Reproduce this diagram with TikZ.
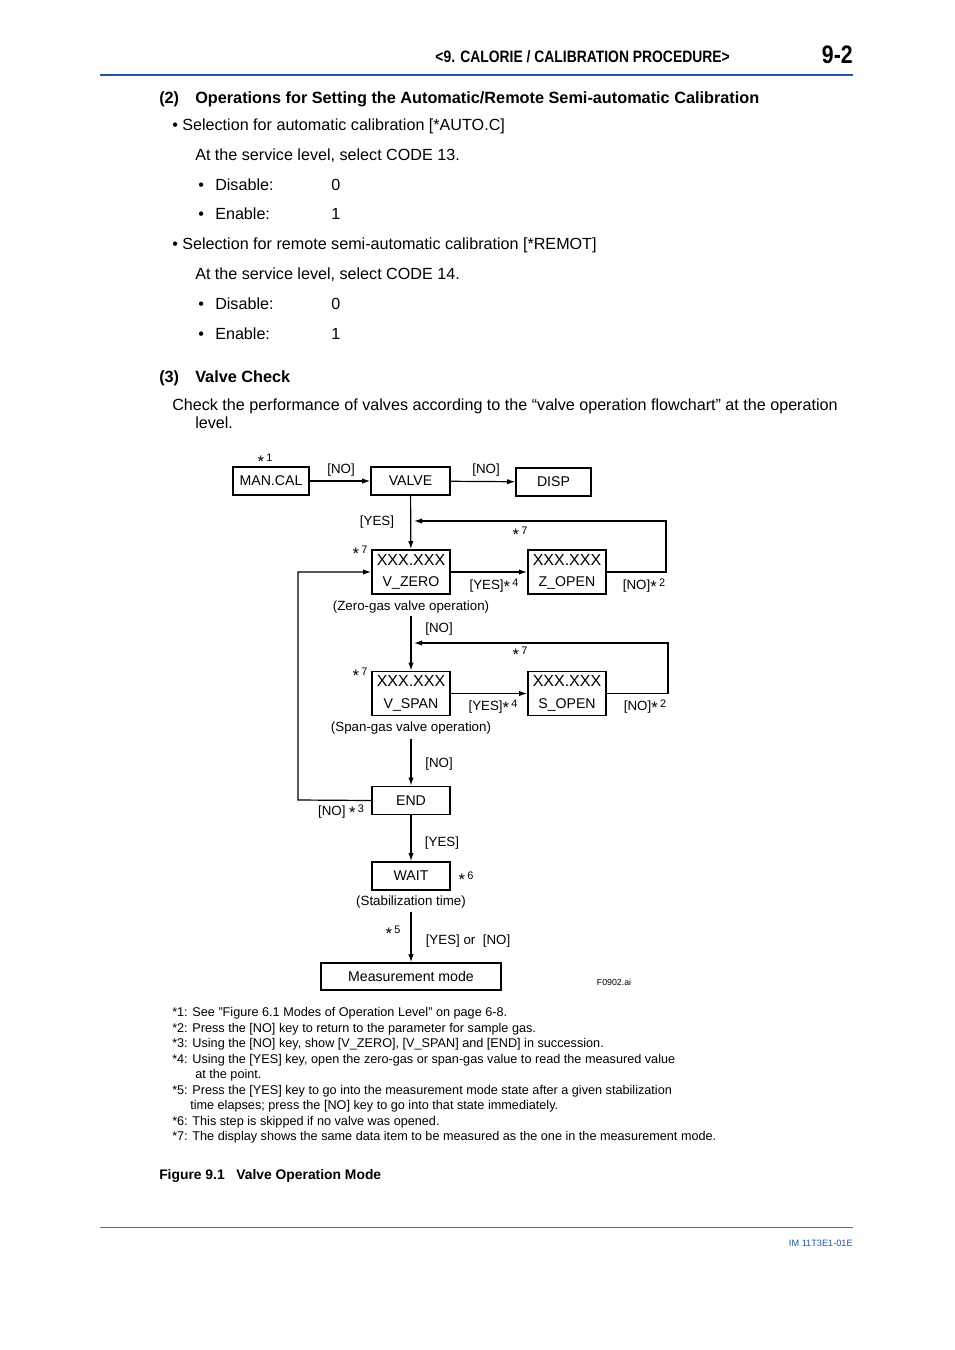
\documentclass[tikz,border=0pt]{standalone}
\usepackage{fontspec}
\setmainfont{Liberation Sans}
\newfontfamily\condfont{Liberation Sans}[FakeStretch=0.84]
\usetikzlibrary{arrows.meta, positioning}
\definecolor{headblue}{RGB}{30,85,170}
\definecolor{rulegray}{RGB}{110,110,110}
\newcommand{\fnote}[1]{\raisebox{-2.2pt}{\fontsize{12.5}{12}\selectfont *}\,\raisebox{2pt}{\fontsize{8.2}{9}\selectfont #1}}

\begin{document}
\begin{tikzpicture}[x=0.75pt, y=-0.75pt,
  box/.style={draw,line width=1.4pt,inner sep=0pt,minimum width=58.5pt,minimum height=21pt,
              font=\fontsize{10.6}{12}\selectfont,align=center},
  dbox/.style={box,minimum height=33pt},
  lbl/.style={inner sep=0pt,yshift=-1.2pt,font=\fontsize{10}{12}\selectfont},
  arr/.style={-{Latex[length=6pt,width=4pt]},line width=0.9pt},
  body/.style={anchor=base west,inner sep=0pt,font=\fontsize{12.1}{14}\selectfont},
  note/.style={anchor=base west,inner sep=0pt,font=\fontsize{9.5}{11}\selectfont}
]
\fill[white] (0,0) rectangle (954,1350);
\useasboundingbox (0,0) rectangle (954,1350);

% Header
\node[anchor=base east,inner sep=0pt,font=\condfont\bfseries\fontsize{12.4}{14}\selectfont] (head)
  at (730,62) {<9. CALORIE / CALIBRATION PROCEDURE>};
\node[anchor=base east,inner sep=0pt,font=\condfont\bfseries\fontsize{19}{20}\selectfont] (pagenum)
  at (853,63) {9-2};
\draw[headblue,line width=2.2pt] (100,75) -- (853,75);

% Section (2)
\node[body,font=\bfseries\fontsize{12.2}{14}\selectfont] (sec2) at (159,103) {(2)};
\node[body,font=\bfseries\fontsize{12.2}{14}\selectfont] (sec2t) at (195,103)
  {Operations for Setting the Automatic/Remote Semi-automatic Calibration};
\node[body] (auto) at (172,130) {\textbullet\ Selection for automatic calibration [*AUTO.C]};
\node[body] (code13) at (195,160) {At the service level, select CODE 13.};
\node[body] (remot) at (172,249) {\textbullet\ Selection for remote semi-automatic calibration [*REMOT]};
\node[body] (code14) at (195,279) {At the service level, select CODE 14.};
\foreach \y/\n in {190/a, 309/b} {
  \node[body] (dis\n) at (198,\y) {\textbullet};
  \node[body] (dist\n) at (215,\y) {Disable:};
  \node[body] (disv\n) at (331,\y) {0};
}
\foreach \y/\n in {219/a, 339/b} {
  \node[body] (ena\n) at (198,\y) {\textbullet};
  \node[body] (enat\n) at (215,\y) {Enable:};
  \node[body] (enav\n) at (331,\y) {1};
}

% Section (3)
\node[body,font=\bfseries\fontsize{12.2}{14}\selectfont] (sec3) at (159,382) {(3)};
\node[body,font=\bfseries\fontsize{12.2}{14}\selectfont] (sec3t) at (195,382) {Valve Check};
\node[body] (check) at (172,410)
  {Check the performance of valves according to the “valve operation flowchart” at the operation};
\node[body] (check2) at (195,428) {level.};

% Flowchart boxes
\node[box,minimum width=57pt] (mancal) at (271,481) {MAN.CAL};
\node[box,minimum width=59pt] (valve) at (410.5,481) {VALVE};
\node[box,minimum width=56pt] (disp) at (553.5,482) {DISP};
\node[dbox] (vzero) at (411,572) {{\fontsize{12}{12}\selectfont XXX.XXX}\\[4pt]V\_ZERO};
\node[dbox] (zopen) at (567,572) {{\fontsize{12}{12}\selectfont XXX.XXX}\\[4pt]Z\_OPEN};
\node[dbox] (vspan) at (411,693.5) {{\fontsize{12}{12}\selectfont XXX.XXX}\\[4pt]V\_SPAN};
\node[dbox] (sopen) at (567,693.5) {{\fontsize{12}{12}\selectfont XXX.XXX}\\[4pt]S\_OPEN};
\node[box] (endbox) at (411,800.5) {END};
\node[box] (wait) at (411,876) {WAIT};
\node[box,minimum width=135pt,minimum height=20pt] (meas) at (411,976.5) {Measurement mode};

% Captions under boxes
\node[lbl] (zerolbl) at (411,605) {(Zero-gas valve operation)};
\node[lbl] (spanlbl) at (411,726) {(Span-gas valve operation)};
\node[lbl] (stablbl) at (411,900) {(Stabilization time)};

% Return points
\coordinate (zret) at (666,521);
\coordinate (zin) at (414,521);
\coordinate (sret) at (668,643);
\coordinate (sin) at (414,643);
\coordinate (loopc) at (298,800);

% Connectors
\draw[arr] (mancal) -- (valve);
\draw[arr] (valve) -- (disp);
\draw[arr] (valve) -- (vzero);
\draw[arr] (vzero) -- (zopen);
\draw[arr] (zopen.east) -| (zret) -- (zin);
\draw[arr] ([yshift=-2pt]zerolbl.south) -- (vspan);
\draw[arr] (vspan) -- (sopen);
\draw[arr] (sopen.east) -| (sret) -- (sin);
\draw[arr] ([yshift=-4pt]spanlbl.south) -- (endbox);
\draw[arr] (endbox.west) -- (loopc) |- (vzero.west);
\draw[arr] (endbox) -- (wait);
\draw[arr] ([yshift=-3pt]stablbl.south) -- (meas);

% Flowchart labels
\node[lbl] (n1) at (265,459) {\fnote{1}};
\node[lbl] (no1) at (341,468) {[NO]};
\node[lbl] (no2) at (486,468) {[NO]};
\node[lbl] (yes1) at (377,520) {[YES]};
\node[lbl] (n7a) at (520,532) {\fnote{7}};
\node[lbl] (n7b) at (360,551) {\fnote{7}};
\node[lbl] (yes4a) at (494,584) {[YES]\fnote{4}};
\node[lbl] (no2a) at (644,584) {[NO]\fnote{2}};
\node[lbl] (no3) at (439,627) {[NO]};
\node[lbl] (n7c) at (520,652) {\fnote{7}};
\node[lbl] (n7d) at (360,673) {\fnote{7}};
\node[lbl] (yes4b) at (493,705) {[YES]\fnote{4}};
\node[lbl] (no2b) at (645,705) {[NO]\fnote{2}};
\node[lbl] (no4) at (439,762) {[NO]};
\node[lbl] (no3b) at (341,810) {[NO] \fnote{3}};
\node[lbl] (yes2) at (442,841) {[YES]};
\node[lbl] (n6) at (466,877) {\fnote{6}};
\node[lbl] (n5) at (393,931) {\fnote{5}};
\node[lbl] (yesno) at (468,939) {[YES] or\ \ [NO]};
\node[lbl,font=\fontsize{6.6}{8}\selectfont] (fig) at (614,981) {F0902.ai};

% Notes
\node[note] (f1) at (172,1016) {*1: See "Figure 6.1 Modes of Operation Level" on page 6-8.};
\node[note] (f2) at (172,1032) {*2: Press the [NO] key to return to the parameter for sample gas.};
\node[note] (f3) at (172,1047) {*3: Using the [NO] key, show [V\_ZERO], [V\_SPAN] and [END] in succession.};
\node[note] (f4) at (172,1063) {*4: Using the [YES] key, open the zero-gas or span-gas value to read the measured value};
\node[note] (f4b) at (195,1078) {at the point.};
\node[note] (f5) at (172,1094) {*5: Press the [YES] key to go into the measurement mode state after a given stabilization};
\node[note] (f5b) at (190,1109) {time elapses; press the [NO] key to go into that state immediately.};
\node[note] (f6) at (172,1125) {*6: This step is skipped if no valve was opened.};
\node[note] (f7) at (172,1140) {*7: The display shows the same data item to be measured as the one in the measurement mode.};

\node[body,font=\bfseries\fontsize{10.4}{12}\selectfont] (figcap) at (159,1179)
  {Figure 9.1\ \ \ Valve Operation Mode};

% Footer
\draw[rulegray,line width=0.7pt] (100,1227) -- (853,1227);
\node[anchor=base east,inner sep=0pt,text=headblue,font=\fontsize{6.9}{8}\selectfont] (docid)
  at (853,1246) {IM 11T3E1-01E};
\end{tikzpicture}
\end{document}
